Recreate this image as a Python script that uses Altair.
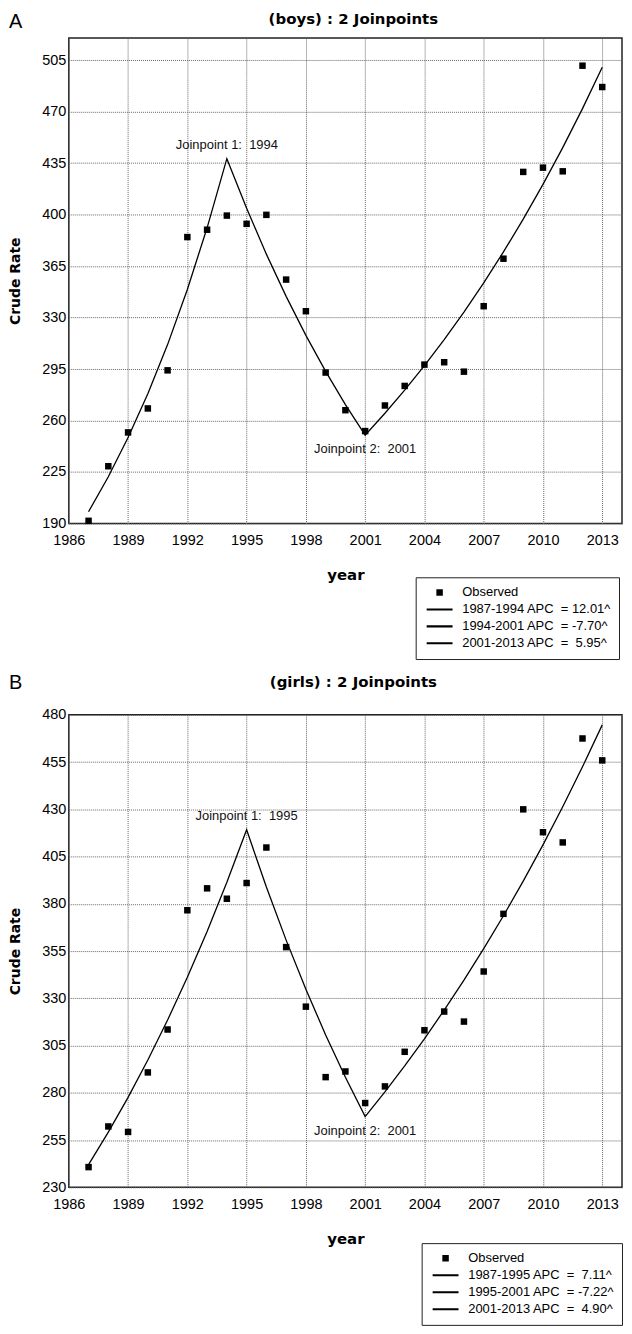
import altair as alt
import pandas as pd

years = list(range(1987, 2014))
x_ticks = list(range(1986, 2014, 3))

boys_observed = [191.8, 228.9, 251.9, 268.2, 294.1, 384.7, 389.7, 399.3, 393.7, 399.8,
                 355.8, 334.3, 292.6, 267.0, 252.8, 270.2, 283.5, 298.0, 299.6, 293.2,
                 337.7, 370.0, 429.0, 431.9, 429.4, 501.2, 486.7]
boys_fitted = [198.0, 221.8, 248.4, 278.2, 311.6, 349.1, 391.0, 438.0, 404.3, 373.1,
               344.4, 317.9, 293.4, 270.8, 250.0, 264.9, 280.6, 297.3, 315.0, 333.7,
               353.6, 374.6, 396.9, 420.5, 445.5, 472.0, 500.1]
boys_joinpoints = [1994, 2001]
boys_legend = ["Observed",
               "1987-1994 APC\u00a0\u00a0= 12.01^",
               "1994-2001 APC\u00a0\u00a0= -7.70^",
               "2001-2013 APC\u00a0\u00a0=\u00a0\u00a05.95^"]
boys_y_ticks = list(range(190, 506, 35))

girls_observed = [240.7, 262.2, 259.3, 290.8, 313.5, 376.6, 388.2, 382.7, 391.0, 409.8,
                  357.1, 325.6, 288.3, 291.3, 274.6, 283.4, 301.7, 313.1, 323.0, 317.7,
                  344.2, 374.7, 430.0, 417.9, 412.5, 467.5, 455.9]
girls_fitted = [242.0, 259.2, 277.6, 297.4, 318.5, 341.2, 365.4, 391.4, 419.2, 388.9,
                360.8, 334.8, 310.6, 288.2, 267.4, 280.5, 294.2, 308.6, 323.8, 339.6,
                356.3, 373.7, 392.0, 411.2, 431.4, 452.5, 474.7]
girls_joinpoints = [1995, 2001]
girls_legend = ["Observed",
                "1987-1995 APC\u00a0\u00a0=\u00a0\u00a07.11^",
                "1995-2001 APC\u00a0\u00a0= -7.22^",
                "2001-2013 APC\u00a0\u00a0=\u00a0\u00a04.90^"]
girls_y_ticks = list(range(230, 481, 25))

SQUARE = "M-0.25,-0.25H0.25V0.25H-0.25Z"
STROKE = "M-1,-0.08H1V0.08H-1Z"
LABEL_FONT = "Liberation Sans"
BOLD_FONT = "DejaVu Sans"
W = 555
GRID = "#666666"


def panel(letter, title, obs, fit, jps, legend_labels, ydomain, yticks, height,
          title_dy, letter_y, legend_x, legend_y):
    obs_df = pd.DataFrame({"year": years, "rate": obs, "series": ["Observed"] * len(years)})
    fit_df = pd.DataFrame({"year": years, "rate": fit})
    jp_df = pd.DataFrame({
        "year": jps,
        "rate": [fit[years.index(y)] for y in jps],
        "idx": [1, 2],
        "label": [f"Joinpoint {i + 1}:\u00a0\u00a0{y}" for i, y in enumerate(jps)],
    })
    letter_df = pd.DataFrame({"panel": [letter]})

    x = alt.X("year:Q",
              scale=alt.Scale(domain=[1986, 2014], nice=False, zero=False),
              axis=alt.Axis(values=x_ticks, format="d", title="year",
                            grid=True, gridColor=GRID, gridDash=[1, 1], gridWidth=1,
                            ticks=False, domain=False, labelFlush=False, labelOverlap=False,
                            labelFont=LABEL_FONT, labelFontSize=14.5, labelColor="black",
                            labelPadding=10,
                            titleFont=BOLD_FONT, titleFontSize=15, titleFontWeight="bold",
                            titleColor="black", titleY=51, titleBaseline="middle"))
    y = alt.Y("rate:Q",
              scale=alt.Scale(domain=ydomain, nice=False, zero=False),
              axis=alt.Axis(values=yticks, format="d", title="Crude Rate",
                            grid=True, gridColor=GRID, gridDash=[1, 1], gridWidth=1,
                            ticks=False, domain=False, labelFlush=False, labelOverlap=False,
                            labelFont=LABEL_FONT, labelFontSize=14.5, labelColor="black",
                            labelPadding=3,
                            titleFont=BOLD_FONT, titleFontSize=14, titleFontWeight="bold",
                            titleColor="black", titleAngle=270, titleX=-53,
                            titleY=height / 2, titleBaseline="middle", titleAlign="center"))

    line = alt.Chart(fit_df).mark_line(color="black", strokeWidth=1.3).encode(x=x, y=y)

    pts = alt.Chart(obs_df).mark_point(filled=True, color="black", strokeWidth=0,
                                       opacity=1, size=676).encode(
        x="year:Q", y="rate:Q",
        shape=alt.Shape("series:N",
                        scale=alt.Scale(domain=legend_labels,
                                        range=[SQUARE, STROKE, STROKE, STROKE]),
                        legend=alt.Legend(title=None, orient="none",
                                          legendX=legend_x, legendY=legend_y,
                                          symbolSize=676, symbolStrokeWidth=0,
                                          symbolFillColor="black", symbolOpacity=1,
                                          labelFont=LABEL_FONT, labelFontSize=13,
                                          labelColor="black", padding=7,
                                          strokeColor="#222", fillColor="white",
                                          clipHeight=16.5, rowPadding=0,
                                          symbolOffset=4, labelOffset=9.7)))

    jp1 = alt.Chart(jp_df).transform_filter("datum.idx == 1").mark_text(
        font=LABEL_FONT, fontSize=13, color="#111", dy=-14).encode(
        x="year:Q", y="rate:Q", text="label:N")
    jp2 = alt.Chart(jp_df).transform_filter("datum.idx == 2").mark_text(
        font=LABEL_FONT, fontSize=13, color="#111", dy=14).encode(
        x="year:Q", y="rate:Q", text="label:N")

    letter_mark = alt.Chart(letter_df).mark_text(
        align="left", baseline="top", font=LABEL_FONT, fontSize=20, color="black").encode(
        x=alt.value(-60), y=alt.value(letter_y), text="panel:N")

    return alt.layer(line, pts, jp1, jp2, letter_mark).properties(
        width=W, height=height,
        title=alt.TitleParams(text=title, font=BOLD_FONT, fontSize=15, fontWeight="bold",
                              color="black", anchor="middle", dx=8, dy=title_dy,
                              offset=10))


top = panel("A", "(boys) : 2 Joinpoints", boys_observed, boys_fitted, boys_joinpoints,
            boys_legend, [190, 520], boys_y_ticks, 487, 25, -26.5, 348, 541)
bottom = panel("B", "(girls) : 2 Joinpoints", girls_observed, girls_fitted, girls_joinpoints,
               girls_legend, [230, 480], girls_y_ticks, 474, 27.5, -42, 354, 530)

chart = alt.vconcat(top, bottom, spacing=11).resolve_scale(
    shape="independent").resolve_legend(shape="independent").properties(
    padding=0).configure_view(stroke="#222", strokeWidth=1.5)

chart.save("out.html", embed_options={"renderer": "svg", "actions": False})
